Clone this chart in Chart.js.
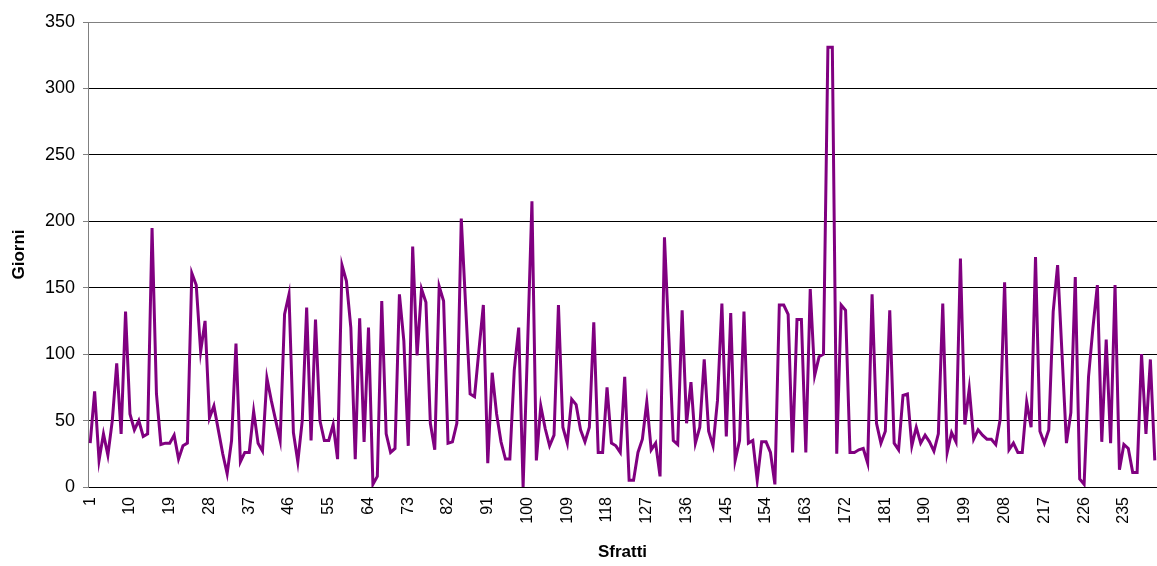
<!DOCTYPE html>
<html>
<head>
<meta charset="utf-8">
<script src="https://cdn.jsdelivr.net/npm/chart.js@4/dist/chart.umd.min.js"></script>
<style>
  html, body { margin: 0; padding: 0; background: #fff; }
  #wrap { position: relative; width: 1157px; height: 566px; }
</style>
</head>
<body>
<div id="wrap"><canvas id="chart"></canvas></div>
<script>
// ---- data ----
const categories = Array.from({ length: 242 }, (_, i) => String(i + 1));

const giorni = [
  33, 72, 20, 40, 24, 50, 93, 40, 132, 55,
  43, 50, 38, 40, 195, 70, 32, 33, 33, 39,
  21, 31, 33, 161, 152, 102, 125, 52, 61, 43,
  25, 10, 35, 108, 19, 26, 26, 57, 33, 27,
  82, 65, 50, 35, 130, 145, 41, 19, 50, 135,
  35, 126, 50, 35, 35, 47, 21, 167, 155, 120,
  21, 127, 34, 120, 2, 8, 140, 40, 26, 29,
  145, 110, 31, 181, 99, 149, 139, 48, 28, 151,
  140, 33, 34, 48, 202, 136, 70, 68, 103, 137,
  18, 86, 55, 34, 21, 21, 88, 120, 0, 105,
  215, 20, 61, 44, 31, 39, 137, 45, 33, 66,
  62, 43, 34, 45, 124, 26, 26, 75, 33, 31,
  26, 83, 5, 5, 26, 36, 64, 28, 33, 8,
  188, 112, 35, 32, 133, 48, 79, 33, 45, 96,
  42, 31, 65, 138, 38, 131, 20, 35, 132, 33,
  35, 5, 34, 34, 26, 2, 137, 137, 130, 26,
  126, 126, 26, 149, 84, 98, 100, 331, 331, 25,
  137, 133, 26, 26, 28, 29, 18, 145, 48, 33,
  42, 133, 33, 28, 69, 70, 31, 45, 33, 39,
  34, 27, 40, 138, 26, 41, 34, 172, 47, 74,
  36, 43, 39, 36, 36, 32, 51, 154, 28, 33,
  26, 26, 64, 45, 173, 42, 33, 43, 132, 167,
  100, 33, 56, 158, 6, 2, 83, 120, 152, 34,
  111, 33, 152, 13, 32, 29, 11, 11, 100, 40,
  96, 20
];

const yMin = 0;
const yMax = 350;
const yStep = 50;
const labelEvery = 9;

const FONT = '"Liberation Sans", Arial, sans-serif';

new Chart(document.getElementById('chart'), {
  type: 'line',
  data: {
    labels: categories,
    datasets: [{
      label: 'Giorni',
      data: giorni,
      borderColor: '#800080',
      borderWidth: 3,
      pointRadius: 0,
      tension: 0,
      fill: false
    }]
  },
  options: {
    responsive: true,
    maintainAspectRatio: false,
    animation: false,
    layout: { padding: { top: 22, right: 0, bottom: 0, left: 0 } },
    plugins: {
      legend: { display: false },
      tooltip: { enabled: false }
    },
    scales: {
      x: {
        type: 'category',
        offset: true,
        grid: { display: false, offset: true },
        border: { display: true, color: '#000', width: 1 },
        ticks: {
          autoSkip: false,
          maxRotation: 90,
          minRotation: 90,
          padding: 2,
          color: '#000',
          font: { family: FONT, size: 16 },
          callback: (val, i) => (i % labelEvery === 0 ? categories[i] : '')
        },
        title: {
          display: true,
          text: 'Sfratti',
          color: '#000',
          font: { family: FONT, size: 17, weight: 'bold' },
          padding: { top: 0, bottom: 3 }
        },
        afterFit: (scale) => {
          scale.height = 79;
          scale.paddingLeft = 0;
          scale.paddingRight = 0;
        }
      },
      y: {
        min: yMin,
        max: yMax,
        grid: {
          color: (ctx) => (ctx.tick && ctx.tick.value === yMax ? '#808080' : '#000'),
          lineWidth: 1,
          drawTicks: true,
          tickLength: 5,
          tickColor: '#808080'
        },
        border: { display: true, color: '#808080', width: 1 },
        ticks: {
          stepSize: yStep,
          padding: 8,
          color: '#000',
          font: { family: FONT, size: 18 }
        },
        title: {
          display: true,
          text: 'Giorni',
          color: '#000',
          font: { family: FONT, size: 17, weight: 'bold' },
          padding: { top: 9, bottom: 4 }
        },
        afterFit: (scale) => { scale.width = 88; }
      }
    }
  }
});
</script>
</body>
</html>
